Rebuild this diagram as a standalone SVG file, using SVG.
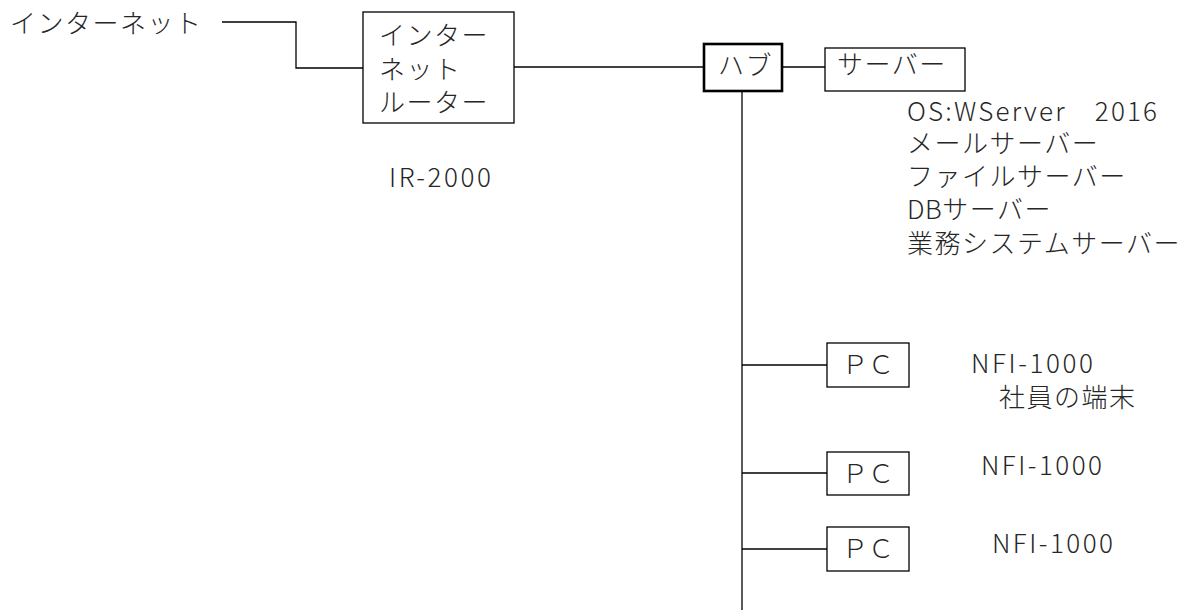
<svg xmlns="http://www.w3.org/2000/svg" width="1197" height="612" viewBox="0 0 1197 612">
<style>
.jp{font-family:"Noto Sans CJK JP","Liberation Sans",sans-serif;font-size:26px;font-weight:300;fill:#262626;letter-spacing:1.5px}
.lt{font-family:"Noto Sans CJK JP","Liberation Sans",sans-serif;font-size:26px;font-weight:300;fill:#262626}
.box{fill:#fff;stroke:#000;stroke-width:1.3}
.hub{fill:#fff;stroke:#000;stroke-width:2.6}
.ln{fill:none;stroke:#000;stroke-width:1.3}
</style>
<rect width="1197" height="612" fill="#fff"/>
<g id="connectors">
<polyline class="ln" points="222,22 296,22 296,68 363,68"/>
<line class="ln" x1="514" y1="67" x2="704" y2="67"/>
<line class="ln" x1="782" y1="67" x2="825" y2="67"/>
<line class="ln" x1="742" y1="91" x2="742" y2="610"/>
<line class="ln" x1="742" y1="365" x2="827" y2="365"/>
<line class="ln" x1="742" y1="473" x2="827" y2="473"/>
<line class="ln" x1="742" y1="549" x2="827" y2="549"/>
</g>
<g id="internet">
<text class="jp" x="10" y="33">インターネット</text>
</g>
<g id="router">
<rect class="box" x="363" y="12" width="151" height="111"/>
<text class="jp" x="379" y="45">インター</text>
<text class="jp" x="379" y="79">ネット</text>
<text class="jp" x="379" y="112">ルーター</text>
<text class="lt" x="389" y="187" textLength="102" lengthAdjust="spacing">IR-2000</text>
</g>
<g id="hub">
<rect class="hub" x="704" y="44" width="78" height="47"/>
<text class="jp" x="718" y="75">ハブ</text>
</g>
<g id="server">
<rect class="box" x="825" y="48" width="140" height="43"/>
<text class="jp" x="837" y="74">サーバー</text>
<text class="lt" x="907" y="121" textLength="250" lengthAdjust="spacing">OS:WServer　2016</text>
<text class="jp" x="907" y="153">メールサーバー</text>
<text class="jp" x="907" y="186">ファイルサーバー</text>
<text class="jp" x="907" y="219"><tspan style="letter-spacing:0.5px">DB</tspan>サーバー</text>
<text class="jp" x="907" y="253">業務システムサーバー</text>
</g>
<g id="pc1">
<rect class="box" x="827" y="343" width="82" height="44"/>
<text class="jp" x="868" y="374" text-anchor="middle" style="letter-spacing:0">ＰＣ</text>
<text class="lt" x="971" y="373" textLength="122" lengthAdjust="spacing">NFI-1000</text>
<text class="jp" x="999" y="407">社員の端末</text>
</g>
<g id="pc2">
<rect class="box" x="827" y="452" width="82" height="43"/>
<text class="jp" x="868" y="483" text-anchor="middle" style="letter-spacing:0">ＰＣ</text>
<text class="lt" x="981" y="475" textLength="121" lengthAdjust="spacing">NFI-1000</text>
</g>
<g id="pc3">
<rect class="box" x="827" y="527" width="82" height="44"/>
<text class="jp" x="868" y="558" text-anchor="middle" style="letter-spacing:0">ＰＣ</text>
<text class="lt" x="992" y="553" textLength="121" lengthAdjust="spacing">NFI-1000</text>
</g>
</svg>
